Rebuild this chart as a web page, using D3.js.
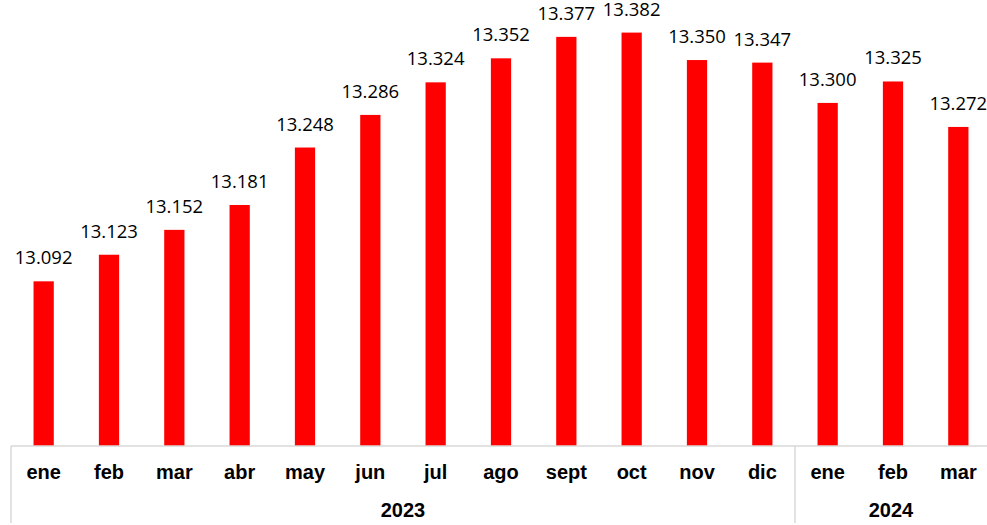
<!DOCTYPE html>
<html>
<head>
<meta charset="utf-8">
<script src="https://cdn.jsdelivr.net/npm/d3@7"></script>
<style>
  html, body { margin: 0; padding: 0; background: #fff; }
  svg { display: block; }
</style>
</head>
<body>
<div id="chart"></div>
<script>
// monthly values, 2023 and first quarter 2024
const months = ["ene", "feb", "mar", "abr", "may", "jun", "jul", "ago", "sept", "oct", "nov", "dic", "ene", "feb", "mar"];
const years = ["2023", "2023", "2023", "2023", "2023", "2023", "2023", "2023", "2023", "2023", "2023", "2023", "2024", "2024", "2024"];
const values = [13.092, 13.123, 13.152, 13.181, 13.248, 13.286, 13.324, 13.352, 13.377, 13.382, 13.350, 13.347, 13.300, 13.325, 13.272];
const yearGroups = ["2023", "2024"];

const width = 987;
const height = 525;
const axisY = 446;

const data = months.map((m, i) => ({ key: i, month: m, year: years[i], value: values[i] }));

const svg = d3.select("#chart")
    .append("svg")
    .attr("width", width)
    .attr("height", height);

const x = d3.scaleBand()
    .domain(data.map(d => d.key))
    .range([11, 991])
    .paddingInner(0.69)
    .paddingOuter(0.345);

const y = d3.scaleLinear()
    .domain([12.9, 13.42])
    .range([axisY, 0]);

// bars
svg.selectAll(".bar")
    .data(data)
    .enter()
    .append("rect")
    .attr("class", "bar")
    .attr("x", d => x(d.key))
    .attr("y", d => y(d.value))
    .attr("width", x.bandwidth())
    .attr("height", d => axisY - y(d.value))
    .attr("fill", "#ff0000");

// value labels
const fmt = d3.format(".3f");
svg.selectAll(".val")
    .data(data)
    .enter()
    .append("text")
    .attr("class", "val")
    .attr("x", d => x(d.key) + x.bandwidth() / 2)
    .attr("y", d => y(d.value) - 17)
    .attr("text-anchor", "middle")
    .attr("font-family", "'Open Sans', sans-serif")
    .attr("font-size", "18.5px")
    .attr("fill", "#000")
    .text(d => fmt(d.value));

// axis line
svg.append("line")
    .attr("x1", 11)
    .attr("x2", width)
    .attr("y1", axisY)
    .attr("y2", axisY)
    .attr("stroke", "#d9d9d9")
    .attr("stroke-width", 1.5);

// month labels
svg.selectAll(".month")
    .data(data)
    .enter()
    .append("text")
    .attr("class", "month")
    .attr("x", d => x(d.key) + x.bandwidth() / 2)
    .attr("y", 479)
    .attr("text-anchor", "middle")
    .attr("font-family", "'Liberation Sans', Arial, sans-serif")
    .attr("font-weight", "bold")
    .attr("font-size", "20px")
    .attr("fill", "#000")
    .text(d => d.month);

// year groups with separators
const step = x.step();
const groups = yearGroups.map(yr => {
    const keys = data.filter(d => d.year === yr).map(d => d.key);
    const x0 = x(keys[0]) - x.paddingInner() * step / 2;
    const x1 = x(keys[keys.length - 1]) + x.bandwidth() + x.paddingInner() * step / 2;
    return { year: yr, x0: x0, x1: Math.min(x1, width) };
});

svg.selectAll(".sep")
    .data(groups)
    .enter()
    .append("line")
    .attr("class", "sep")
    .attr("x1", d => Math.round(d.x0))
    .attr("x2", d => Math.round(d.x0))
    .attr("y1", axisY)
    .attr("y2", height - 2)
    .attr("stroke", "#d9d9d9")
    .attr("stroke-width", 1.5);

svg.selectAll(".year")
    .data(groups)
    .enter()
    .append("text")
    .attr("class", "year")
    .attr("x", d => (d.x0 + d.x1) / 2)
    .attr("y", 517)
    .attr("text-anchor", "middle")
    .attr("font-family", "'Liberation Sans', Arial, sans-serif")
    .attr("font-weight", "bold")
    .attr("font-size", "20px")
    .attr("fill", "#000")
    .text(d => d.year);
</script>
</body>
</html>
